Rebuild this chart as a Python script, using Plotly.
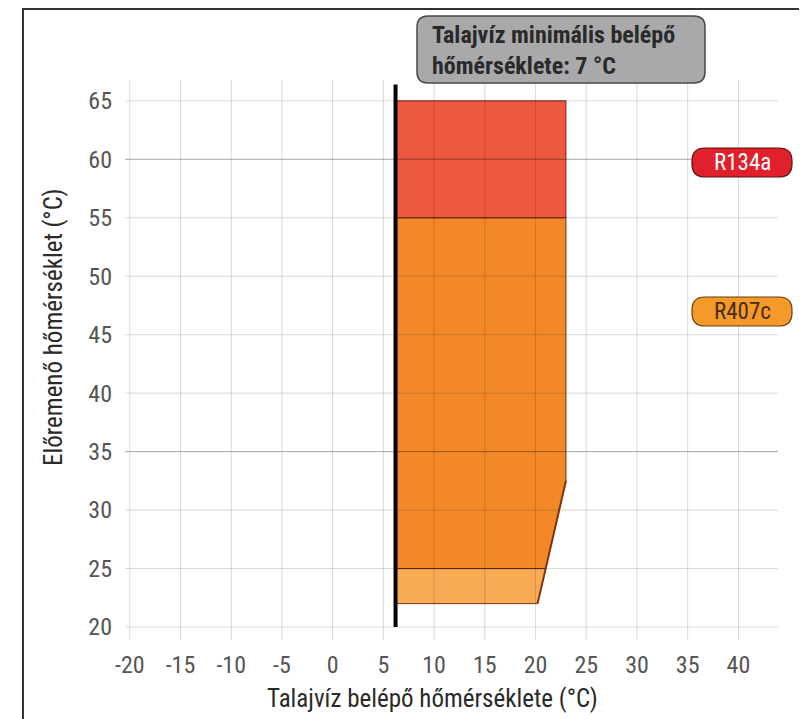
import plotly.graph_objects as go

# ---- data ----
x_ticks = [-20, -15, -10, -5, 0, 5, 10, 15, 20, 25, 30, 35, 40]
y_ticks = [20, 25, 30, 35, 40, 45, 50, 55, 60, 65]

min_inlet = 6.2           # black limit line position (as drawn)
limit_y = [20, 66.4]

r134a_x = [6.2, 6.2, 23, 23, 6.2]
r134a_y = [55, 65, 65, 55, 55]

r407c_x = [6.2, 6.2, 23, 23, 21, 6.2]
r407c_y = [25, 55, 55, 32.5, 25, 25]

low_x = [6.2, 6.2, 21, 20.2, 6.2]
low_y = [22, 25, 25, 22, 22]

legend_labels = ["R134a", "R407c"]
note_text = "Talajvíz minimális belépő<br>hőmérséklete: 7 °C"
x_title = "Talajvíz belépő hőmérséklete (°C)"
y_title = "Előremenő hőmérséklet (°C)"

# ---- layout geometry (page has an 8px body margin) ----
OFF = 8
W, H = 807 - OFF, 719 - OFF
SX0, SX1, SY0, SY1 = 125, 778, 80, 640      # plot area in screen pixels
L, T = SX0 - OFF, SY0 - OFF
R, B = W - (SX1 - OFF), H - (SY1 - OFF)
PW, PH = SX1 - SX0, SY1 - SY0
XR = [-20.47, 43.9]
YR = [18.89, 66.78]

def px(x):
    return (x - SX0) / PW

def py(y):
    return (SY1 - y) / PH

def rounded_path(x0, y0, x1, y1, r):
    def P(x, y):
        return f"{px(x):.5f},{py(y):.5f}"
    return (f"M {P(x0 + r, y0)} L {P(x1 - r, y0)} Q {P(x1, y0)} {P(x1, y0 + r)} "
            f"L {P(x1, y1 - r)} Q {P(x1, y1)} {P(x1 - r, y1)} "
            f"L {P(x0 + r, y1)} Q {P(x0, y1)} {P(x0, y1 - r)} "
            f"L {P(x0, y0 + r)} Q {P(x0, y0)} {P(x0 + r, y0)} Z")

FONT = "Liberation Sans Narrow, Arial Narrow, Roboto Condensed, Liberation Sans, sans-serif"

fig = go.Figure()
edge = "rgba(90,30,10,0.85)"
fig.add_trace(go.Scatter(x=low_x, y=low_y, fill="toself", mode="lines",
                         fillcolor="rgb(248,170,85)", line=dict(color=edge, width=1),
                         hoverinfo="skip", showlegend=False))
fig.add_trace(go.Scatter(x=r407c_x, y=r407c_y, fill="toself", mode="lines",
                         fillcolor="rgb(242,136,40)", line=dict(color=edge, width=1),
                         hoverinfo="skip", showlegend=False))
fig.add_trace(go.Scatter(x=r134a_x, y=r134a_y, fill="toself", mode="lines",
                         fillcolor="rgb(238,88,62)", line=dict(color=edge, width=1),
                         hoverinfo="skip", showlegend=False))
# slanted edge accent
fig.add_trace(go.Scatter(x=[r407c_x[3], r407c_x[4], low_x[3]], y=[r407c_y[3], r407c_y[4], low_y[3]],
                         mode="lines", line=dict(color="rgba(120,50,10,0.9)", width=2),
                         hoverinfo="skip", showlegend=False))
fig.add_trace(go.Scatter(x=[min_inlet, min_inlet], y=limit_y, mode="lines",
                         line=dict(color="black", width=4), hoverinfo="skip", showlegend=False))

shapes = []
for xv in x_ticks:
    shapes.append(dict(type="line", xref="x", yref="paper", x0=xv, x1=xv, y0=0, y1=1,
                       line=dict(color="rgba(0,0,0,0.15)", width=1), layer="above"))
for yv in y_ticks:
    col = "rgba(0,0,0,0.36)" if yv in (60, 35) else "rgba(0,0,0,0.15)"
    shapes.append(dict(type="line", xref="paper", yref="y", x0=0, x1=1, y0=yv, y1=yv,
                       line=dict(color=col, width=1), layer="above"))

# outer frame (left and top)
shapes.append(dict(type="line", xref="paper", yref="paper", x0=px(23), x1=px(23), y0=py(9), y1=py(725),
                   line=dict(color="#333333", width=2), layer="above"))
shapes.append(dict(type="line", xref="paper", yref="paper", x0=px(22), x1=px(815), y0=py(9), y1=py(9),
                   line=dict(color="#333333", width=2), layer="above"))

# note box
shapes.append(dict(type="path", xref="paper", yref="paper", path=rounded_path(417, 16, 705, 83, 11),
                   fillcolor="#a9a9ab", line=dict(color="#4a4a4a", width=1.5), layer="above"))
# legend pills
shapes.append(dict(type="path", xref="paper", yref="paper", path=rounded_path(692, 148, 792, 177, 13),
                   fillcolor="#e0202a", line=dict(color="#5a1010", width=1.2), layer="above"))
shapes.append(dict(type="path", xref="paper", yref="paper", path=rounded_path(692, 297, 792, 326, 13),
                   fillcolor="#f39a2a", line=dict(color="#6a3a10", width=1.2), layer="above"))

annotations = [
    dict(text=f"<b>{note_text}</b>", xref="paper", yref="paper", x=px(430), y=py(51),
         xanchor="left", yanchor="middle", align="left", showarrow=False,
         font=dict(family=FONT, size=24, color="#2a2a2a")),
    dict(text=legend_labels[0], xref="paper", yref="paper", x=px(742), y=py(162.5),
         xanchor="center", yanchor="middle", showarrow=False,
         font=dict(family=FONT, size=23, color="white")),
    dict(text=legend_labels[1], xref="paper", yref="paper", x=px(742), y=py(311.5),
         xanchor="center", yanchor="middle", showarrow=False,
         font=dict(family=FONT, size=23, color="#4a2a10")),
    dict(text=x_title, xref="paper", yref="paper", x=px(432), y=py(698),
         xanchor="center", yanchor="middle", showarrow=False,
         font=dict(family=FONT, size=25, color="#2a2a2a")),
    dict(text=y_title, xref="paper", yref="paper", x=px(53), y=py(327),
         xanchor="center", yanchor="middle", textangle=-90, showarrow=False,
         font=dict(family=FONT, size=25, color="#2a2a2a")),
]

fig.update_layout(
    width=W, height=H, margin=dict(l=L, r=R, t=T, b=B, pad=0),
    paper_bgcolor="white", plot_bgcolor="white",
    shapes=shapes, annotations=annotations, showlegend=False,
    font=dict(family=FONT, color="#555555", size=18),
)
fig.update_xaxes(range=XR, tickvals=x_ticks, ticktext=[str(v) for v in x_ticks],
                 showgrid=False, zeroline=False, showline=False, ticks="",
                 tickfont=dict(family=FONT, size=24, color="#555555"), ticklabelstandoff=8)
fig.update_yaxes(range=YR, tickvals=y_ticks, ticktext=[str(v) for v in y_ticks],
                 showgrid=False, zeroline=False, showline=False, ticks="",
                 tickfont=dict(family=FONT, size=24, color="#555555"), ticklabelstandoff=12)

fig.write_html("out.html")
